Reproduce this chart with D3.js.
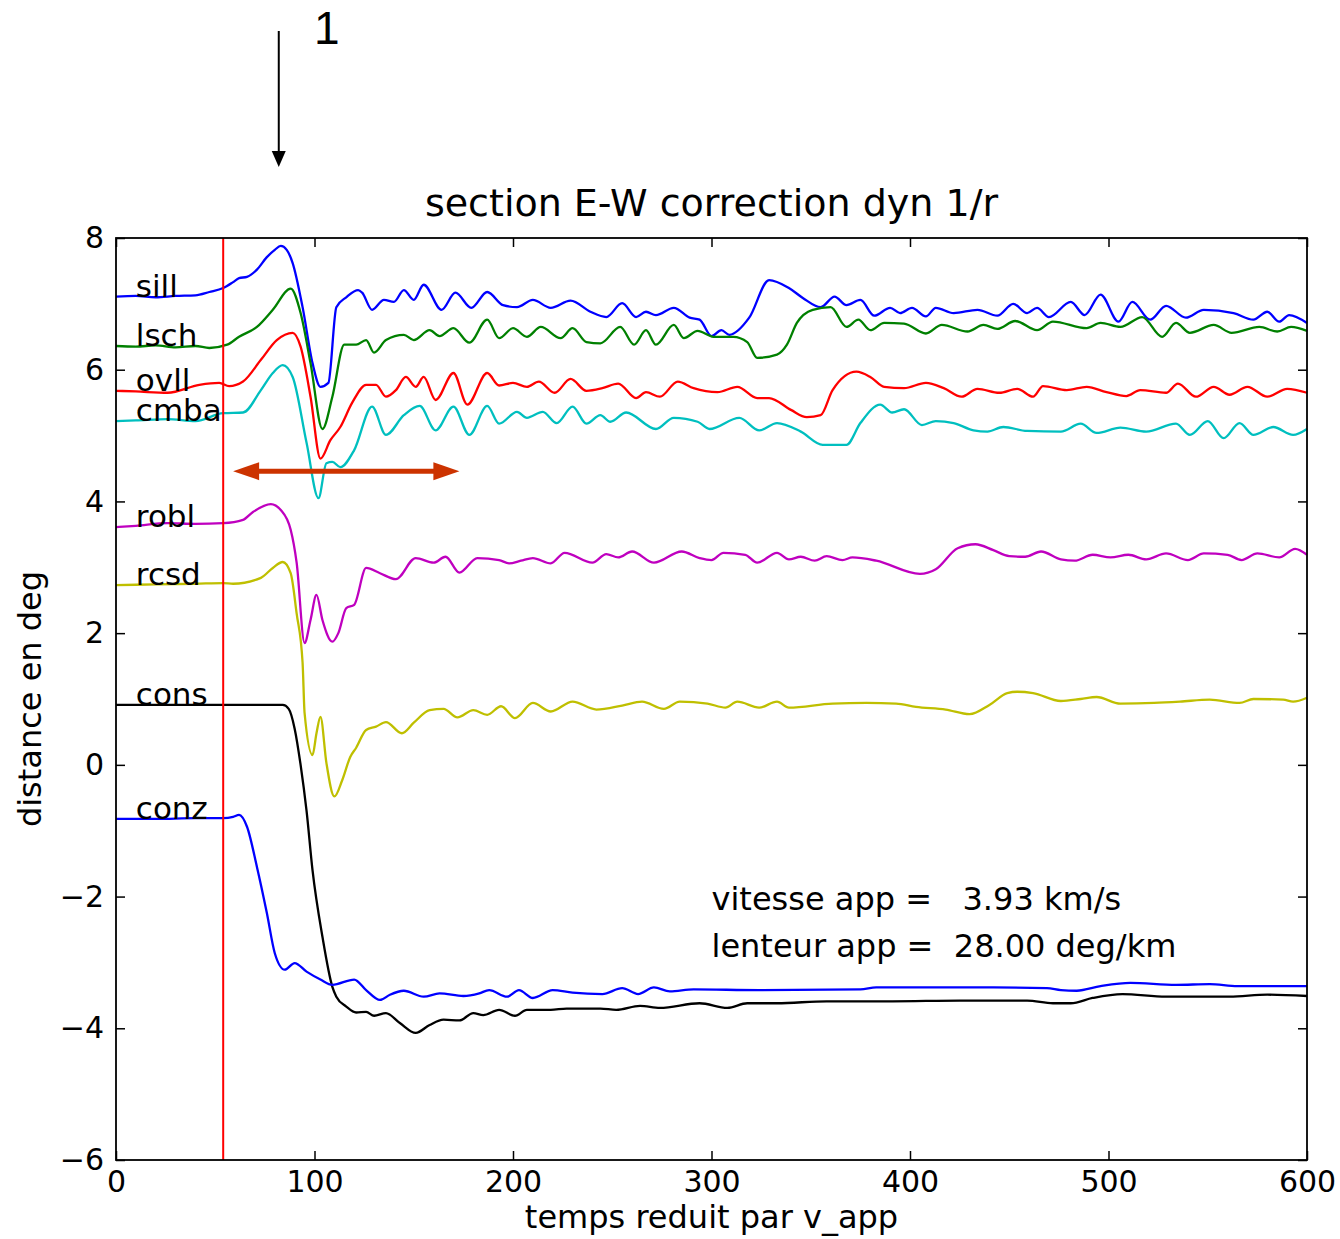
<!DOCTYPE html>
<html>
<head>
<meta charset="utf-8">
<script src="https://cdn.jsdelivr.net/npm/d3@7"></script>
<style>
  body { margin: 0; background: #fff; }
  svg text { font-family: "DejaVu Sans", sans-serif; }
</style>
</head>
<body>
<div id="chart"></div>
<script>
// Data: [temps reduit, distance en deg]
var sill = [[0,7.11],[10,7.12],[20,7.10],[30,7.12],[40,7.13],[47,7.18],[54,7.24],[59,7.33],[62,7.39],[66,7.41],[71,7.52],[76,7.71],[80,7.82],[83,7.88],[86,7.82],[89,7.62],[94,6.95],[99,6.10],[103,5.74],[107,5.80],[111,6.95],[116,7.10],[122,7.21],[124,7.17],[129,6.91],[135,7.06],[140,7.03],[145,7.21],[150,7.06],[155,7.29],[164,6.91],[171,7.17],[179,6.94],[187,7.18],[195,6.98],[202,6.95],[210,7.06],[219,6.94],[229,7.05],[239,6.88],[247,6.80],[255,7.01],[262,6.80],[267,6.88],[272,6.83],[281,6.94],[289,6.79],[294,6.76],[300,6.51],[305,6.60],[309,6.53],[319,6.79],[329,7.36],[339,7.24],[346,7.09],[355,6.95],[362,7.11],[368,6.98],[375,7.06],[382,6.82],[390,6.94],[395,6.86],[401,6.94],[408,6.81],[413,6.94],[422,6.86],[434,6.91],[444,6.82],[452,7.00],[459,6.86],[464,6.94],[470,6.80],[481,7.03],[488,6.83],[496,7.14],[505,6.73],[512,7.03],[521,6.76],[529,6.97],[539,6.79],[548,6.91],[563,6.86],[573,6.76],[580,6.88],[586,6.73],[591,6.83],[600,6.71]];

var lsch = [[0,6.36],[10,6.35],[20,6.37],[30,6.34],[40,6.36],[47,6.33],[56,6.38],[62,6.50],[71,6.65],[79,6.91],[88,7.23],[93,6.86],[98,6.10],[104,5.10],[109,5.59],[115,6.38],[121,6.38],[126,6.45],[130,6.26],[136,6.45],[145,6.53],[150,6.45],[158,6.60],[163,6.51],[170,6.63],[178,6.41],[187,6.76],[193,6.48],[200,6.63],[207,6.50],[214,6.65],[224,6.48],[230,6.63],[237,6.42],[244,6.40],[254,6.65],[261,6.38],[267,6.60],[272,6.38],[281,6.68],[286,6.48],[293,6.59],[301,6.50],[311,6.50],[318,6.42],[323,6.18],[333,6.23],[338,6.38],[343,6.71],[351,6.91],[360,6.95],[368,6.65],[374,6.76],[380,6.60],[387,6.71],[397,6.70],[408,6.55],[416,6.68],[429,6.58],[437,6.68],[444,6.62],[453,6.74],[464,6.60],[472,6.73],[489,6.63],[496,6.71],[506,6.65],[517,6.80],[527,6.50],[534,6.71],[541,6.56],[553,6.68],[562,6.56],[576,6.65],[585,6.58],[592,6.65],[600,6.59]];

var ovll = [[0,5.68],[10,5.67],[26,5.65],[42,5.77],[52,5.80],[57,5.75],[64,5.82],[73,6.15],[81,6.45],[89,6.56],[93,6.35],[98,5.59],[103,4.65],[108,4.93],[113,5.13],[119,5.50],[126,5.77],[131,5.77],[136,5.59],[141,5.69],[146,5.89],[151,5.74],[155,5.89],[161,5.54],[170,5.95],[177,5.47],[187,5.95],[193,5.76],[200,5.80],[207,5.74],[213,5.82],[221,5.65],[229,5.86],[237,5.68],[245,5.72],[253,5.79],[262,5.57],[267,5.66],[274,5.59],[283,5.82],[291,5.72],[303,5.66],[313,5.74],[323,5.57],[329,5.57],[340,5.39],[348,5.28],[355,5.31],[361,5.69],[373,5.97],[380,5.89],[387,5.74],[397,5.72],[408,5.80],[417,5.72],[426,5.59],[434,5.71],[445,5.65],[454,5.71],[462,5.59],[467,5.75],[479,5.69],[489,5.74],[499,5.66],[509,5.60],[516,5.69],[529,5.65],[535,5.79],[544,5.59],[553,5.74],[561,5.62],[570,5.74],[580,5.59],[590,5.71],[600,5.65]];

var cmba = [[0,5.22],[10,5.23],[26,5.25],[40,5.22],[54,5.34],[64,5.35],[73,5.69],[79,5.95],[84,6.07],[89,5.89],[96,4.89],[102,4.05],[106,4.58],[109,4.60],[113,4.52],[120,4.78],[129,5.44],[136,5.01],[145,5.31],[153,5.45],[161,5.08],[170,5.44],[178,5.01],[187,5.45],[193,5.18],[202,5.36],[207,5.27],[215,5.36],[222,5.19],[230,5.44],[237,5.18],[244,5.31],[249,5.21],[257,5.35],[272,5.10],[281,5.27],[293,5.21],[299,5.10],[314,5.27],[324,5.08],[333,5.19],[345,5.06],[356,4.86],[368,4.86],[375,5.19],[385,5.47],[391,5.35],[397,5.40],[406,5.16],[413,5.22],[422,5.19],[432,5.08],[439,5.06],[447,5.13],[459,5.07],[476,5.06],[486,5.18],[494,5.04],[506,5.12],[519,5.06],[534,5.18],[541,5.01],[550,5.22],[558,4.96],[566,5.19],[573,5.01],[583,5.13],[593,5.01],[600,5.10]];

var robl = [[0,3.61],[10,3.63],[26,3.67],[40,3.66],[54,3.67],[64,3.72],[69,3.84],[78,3.96],[83,3.87],[88,3.57],[91,3.07],[95,1.85],[98,2.20],[101,2.58],[104,2.20],[109,1.87],[112,2.00],[116,2.38],[120,2.43],[126,2.99],[133,2.91],[141,2.82],[151,3.14],[160,3.07],[166,3.16],[173,2.92],[182,3.14],[193,3.11],[198,3.06],[204,3.10],[210,3.14],[219,3.06],[226,3.22],[240,3.07],[247,3.20],[253,3.15],[260,3.24],[271,3.07],[285,3.24],[294,3.14],[300,3.11],[306,3.22],[317,3.19],[323,3.07],[333,3.22],[339,3.12],[345,3.16],[352,3.10],[358,3.17],[366,3.11],[371,3.15],[383,3.10],[405,2.90],[413,2.97],[424,3.29],[433,3.35],[442,3.26],[450,3.17],[458,3.16],[466,3.24],[476,3.12],[483,3.10],[492,3.19],[501,3.15],[510,3.19],[519,3.12],[529,3.21],[540,3.11],[548,3.21],[560,3.19],[567,3.11],[575,3.21],[586,3.15],[594,3.28],[600,3.19]];

var rcsd = [[0,2.73],[20,2.74],[40,2.75],[54,2.76],[59,2.75],[73,2.84],[79,2.99],[84,3.08],[88,2.91],[91,2.30],[94,1.55],[95,0.79],[99,0.15],[101,0.48],[103,0.73],[106,0.03],[110,-0.48],[114,-0.23],[118,0.12],[121,0.26],[126,0.53],[131,0.58],[136,0.65],[144,0.48],[150,0.64],[158,0.83],[165,0.85],[172,0.72],[180,0.83],[187,0.76],[194,0.89],[201,0.71],[210,0.94],[219,0.81],[230,0.96],[242,0.84],[255,0.90],[265,0.96],[276,0.85],[284,0.96],[298,0.93],[307,0.87],[313,0.96],[324,0.87],[333,0.96],[339,0.87],[361,0.93],[378,0.94],[393,0.93],[403,0.88],[418,0.84],[430,0.77],[440,0.91],[449,1.09],[454,1.11],[462,1.09],[476,0.97],[486,1.00],[494,1.03],[506,0.93],[523,0.94],[536,0.96],[551,0.99],[566,0.94],[573,1.00],[588,0.99],[593,0.96],[600,1.02]];

var cons = [[0,0.91],[20,0.91],[40,0.91],[60,0.91],[84,0.91],[87,0.85],[90,0.55],[93,0.00],[96,-0.70],[99,-1.60],[104,-2.61],[109,-3.37],[111,-3.52],[116,-3.67],[121,-3.76],[126,-3.75],[130,-3.81],[136,-3.77],[143,-3.92],[151,-4.07],[158,-3.95],[165,-3.87],[173,-3.88],[180,-3.77],[185,-3.80],[193,-3.72],[201,-3.81],[207,-3.72],[219,-3.72],[227,-3.70],[244,-3.70],[252,-3.72],[264,-3.66],[274,-3.69],[294,-3.62],[308,-3.69],[318,-3.62],[333,-3.62],[358,-3.59],[391,-3.59],[425,-3.58],[459,-3.58],[472,-3.62],[481,-3.62],[492,-3.54],[507,-3.48],[529,-3.52],[561,-3.52],[580,-3.49],[600,-3.51]];

var conz = [[0,-0.82],[20,-0.82],[40,-0.81],[54,-0.81],[59,-0.79],[62,-0.76],[66,-0.94],[71,-1.55],[76,-2.25],[80,-2.86],[85,-3.11],[90,-3.01],[96,-3.14],[103,-3.26],[109,-3.34],[120,-3.26],[126,-3.42],[133,-3.57],[138,-3.49],[145,-3.43],[155,-3.52],[163,-3.47],[175,-3.51],[183,-3.47],[188,-3.42],[197,-3.52],[203,-3.42],[210,-3.54],[220,-3.42],[230,-3.46],[245,-3.48],[255,-3.39],[263,-3.48],[271,-3.38],[279,-3.44],[291,-3.41],[324,-3.42],[375,-3.41],[383,-3.38],[442,-3.38],[469,-3.39],[476,-3.42],[484,-3.43],[496,-3.36],[511,-3.31],[534,-3.34],[551,-3.33],[565,-3.36],[600,-3.36]];

var stationNames = ["sill", "lsch", "ovll", "cmba", "robl", "rcsd", "cons", "conz"];
var stationData = [sill, lsch, ovll, cmba, robl, rcsd, cons, conz];
var stationColors = ["#0000ff", "#008000", "#ff0000", "#00bfbf", "#bf00bf", "#bfbf00", "#000000", "#0000ff"];

var xTicks = [0, 100, 200, 300, 400, 500, 600];
var yTicks = [-6, -4, -2, 0, 2, 4, 6, 8];

var onsetTime = 54;           // red vertical line
var windowTimes = [59, 173];  // red double arrow
var windowLevel = 4.46;
var markTime = 82;            // arrow "1"
var infoLines = ["vitesse app =   3.93 km/s", "lenteur app =  28.00 deg/km"];

// Canvas
var margin = { top: 238, right: 33, bottom: 79, left: 116 };
var width = 1340 - margin.left - margin.right;
var height = 1239 - margin.top - margin.bottom;

var root = d3.select("#chart").append("svg")
    .attr("width", 1340)
    .attr("height", 1239);

var svg = root.append("g")
    .attr("transform", "translate(" + margin.left + "," + margin.top + ")");

var x = d3.scaleLinear().domain([0, 600]).range([0, width]);
var y = d3.scaleLinear().domain([-6, 8]).range([height, 0]);

// axes, ticks pointing inwards on all four sides
var fmt = d3.format("d");
var tick = 9;

svg.append("g")
    .attr("transform", "translate(0," + height + ")")
    .call(d3.axisBottom(x).tickValues(xTicks).tickFormat(fmt).tickSize(-tick).tickPadding(11))
    .call(function(g) { g.select(".domain").remove(); });

svg.append("g")
    .call(d3.axisTop(x).tickValues(xTicks).tickSize(-tick).tickFormat(""))
    .call(function(g) { g.select(".domain").remove(); });

svg.append("g")
    .call(d3.axisLeft(y).tickValues(yTicks).tickFormat(fmt).tickSize(-tick).tickPadding(12))
    .call(function(g) { g.select(".domain").remove(); });

svg.append("g")
    .attr("transform", "translate(" + width + ",0)")
    .call(d3.axisRight(y).tickValues(yTicks).tickSize(-tick).tickFormat(""))
    .call(function(g) { g.select(".domain").remove(); });

svg.selectAll(".tick line").attr("stroke", "#000").attr("stroke-width", 1.5);
svg.selectAll(".tick text")
    .attr("fill", "#000")
    .style("font-size", "30px")
    .style("font-family", "DejaVu Sans");

// traces
var line = d3.line()
    .curve(d3.curveMonotoneX)
    .x(function(d) { return x(d[0]); })
    .y(function(d) { return y(d[1]); });

var plot = svg.append("g");

stationData.forEach(function(series, i) {
    plot.append("path")
        .datum(series)
        .attr("d", line)
        .attr("fill", "none")
        .attr("stroke", stationColors[i])
        .attr("stroke-width", 2.3)
        .attr("stroke-linejoin", "round");
});

// station names, sitting on the start of each trace
stationData.forEach(function(series, i) {
    plot.append("text")
        .attr("x", x(10))
        .attr("y", y(series[0][1]))
        .attr("fill", "#000")
        .style("font-size", "31px")
        .text(stationNames[i]);
});

// onset marker
svg.append("line")
    .attr("x1", x(onsetTime)).attr("x2", x(onsetTime))
    .attr("y1", 0).attr("y2", height)
    .attr("stroke", "#ff0000")
    .attr("stroke-width", 2);

// frame
svg.append("rect")
    .attr("width", width)
    .attr("height", height)
    .attr("fill", "none")
    .attr("stroke", "#000")
    .attr("stroke-width", 1.8);

// info text
var info = svg.append("text")
    .attr("x", x(300))
    .attr("y", y(-2.2))
    .attr("fill", "#000")
    .style("font-size", "32px")
    .style("white-space", "pre");
info.selectAll("tspan")
    .data(infoLines)
    .enter().append("tspan")
    .attr("x", x(300))
    .attr("dy", function(d, i) { return i === 0 ? 0 : 47; })
    .text(function(d) { return d; });

// titles
svg.append("text")
    .attr("x", width / 2)
    .attr("y", -22)
    .attr("text-anchor", "middle")
    .attr("fill", "#000")
    .style("font-size", "38px")
    .text("section E-W correction dyn 1/r");

svg.append("text")
    .attr("x", width / 2)
    .attr("y", height + 68)
    .attr("text-anchor", "middle")
    .attr("fill", "#000")
    .style("font-size", "32px")
    .text("temps reduit par v_app");

svg.append("text")
    .attr("transform", "translate(" + (-75) + "," + (height / 2) + ") rotate(-90)")
    .attr("text-anchor", "middle")
    .attr("fill", "#000")
    .style("font-size", "32px")
    .text("distance en deg");

// red double arrow (time window)
var ax1 = x(windowTimes[0]), ax2 = x(windowTimes[1]), ay = y(windowLevel);
var head = 26, half = 9;
svg.append("line")
    .attr("x1", ax1 + head - 2).attr("x2", ax2 - head + 2)
    .attr("y1", ay).attr("y2", ay)
    .attr("stroke", "#cc3300")
    .attr("stroke-width", 5);
svg.append("path")
    .attr("d", "M" + ax1 + "," + ay + " L" + (ax1 + head) + "," + (ay - half) + " L" + (ax1 + head) + "," + (ay + half) + " Z")
    .attr("fill", "#cc3300");
svg.append("path")
    .attr("d", "M" + ax2 + "," + ay + " L" + (ax2 - head) + "," + (ay - half) + " L" + (ax2 - head) + "," + (ay + half) + " Z")
    .attr("fill", "#cc3300");

// black arrow "1" above the plot
var bx = margin.left + x(markTime);
root.append("line")
    .attr("x1", bx).attr("x2", bx)
    .attr("y1", 31).attr("y2", 153)
    .attr("stroke", "#000")
    .attr("stroke-width", 2);
root.append("path")
    .attr("d", "M" + bx + ",167 L" + (bx - 7) + ",151 L" + (bx + 7) + ",151 Z")
    .attr("fill", "#000");
root.append("text")
    .attr("x", bx + 48)
    .attr("y", 44)
    .attr("text-anchor", "middle")
    .attr("fill", "#000")
    .style("font-family", "'Liberation Sans', Arial, sans-serif")
    .style("font-size", "46px")
    .text("1");
</script>
</body>
</html>
